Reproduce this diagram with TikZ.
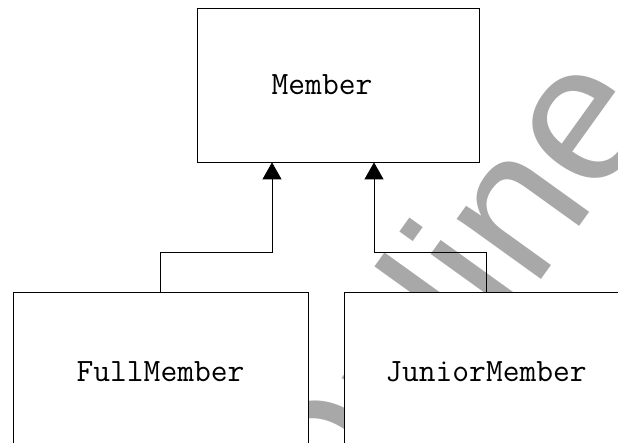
\documentclass[tikz,border=0pt]{standalone}
\usepackage{fontspec}
\newfontfamily\wmfont{Liberation Sans}
\usetikzlibrary{positioning,arrows.meta,calc}

\begin{document}
\begin{tikzpicture}[
    x=1pt, y=1pt,
    umlclass/.style={rectangle, draw=black, line width=0.8pt, fill=white, inner sep=0pt, font=\ttfamily\fontsize{32.6}{36}\selectfont},
    inherit/.style={-{Triangle[width=19pt,length=17pt]}, line width=0.8pt},
    watermark/.style={inner sep=0pt, outer sep=0pt, text=black!34, font=\wmfont\fontsize{196}{196}\selectfont}
]
    \clip (0,0) rectangle (618,443);
    \fill[white] (0,0) rectangle (618,443);

    % Background: watermark
    \node[watermark, anchor=base west, rotate=54.3] (wm) at (330,-130) {Online};

    % Top: superclass
    \node[umlclass, minimum width=282pt, minimum height=154pt] (member) at (338,358) {Member\hspace*{32pt}};

    % Bottom: subclasses
    \node[umlclass, minimum width=295pt, minimum height=160pt] (full) at (160.5,71) {FullMember};
    \node[umlclass, minimum width=284pt, minimum height=160pt] (junior) at (486,71) {JuniorMember};

    % Generalisation arrows
    \draw[inherit] (full.north) -- ++(0,39) -| ([xshift=-66pt]member.south);
    \draw[inherit] (junior.north) -- ++(0,39) -| ([xshift=36pt]member.south);

\end{tikzpicture}
\end{document}
